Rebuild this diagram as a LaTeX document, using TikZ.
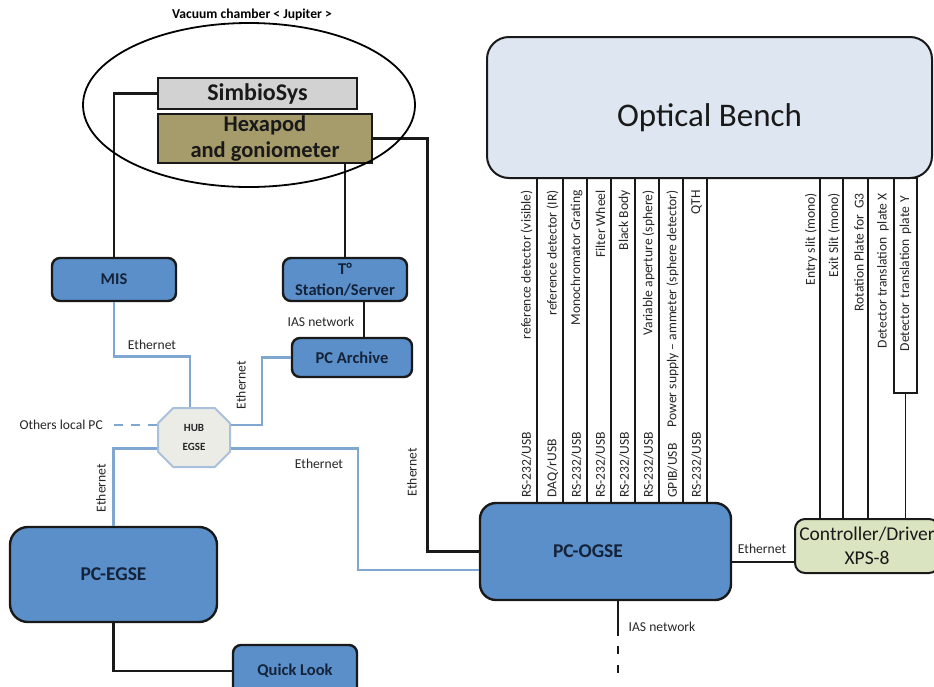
\documentclass[tikz,border=0pt]{standalone}
\usepackage{fontspec}
\setmainfont{Carlito}
\usetikzlibrary{positioning,calc,shapes.geometric,shapes.misc}
\definecolor{boxblue}{HTML}{5B8FC9}
\definecolor{boxtext}{HTML}{14233A}
\definecolor{ethblue}{HTML}{80A6D2}
\definecolor{benchfill}{HTML}{DEE6F1}
\definecolor{hubfill}{HTML}{ECECE6}
\definecolor{hubline}{HTML}{A9C0DD}
\definecolor{hexfill}{HTML}{A59B6B}
\definecolor{simfill}{HTML}{D2D2D2}
\definecolor{ctrlfill}{HTML}{DAE4C0}

\begin{document}
\begin{tikzpicture}[x=1pt,y=-1pt,
  box/.style={draw=black!90,line width=2.4pt,fill=boxblue,rounded corners=8pt,text=boxtext,
    font=\bfseries\fontsize{16.5}{21}\selectfont,align=center,inner sep=0pt},
  link/.style={line width=2.6pt,black!90},
  eth/.style={line width=2.6pt,ethblue},
  lbl/.style={font=\fontsize{13.6}{16}\selectfont,text=black!85,inner sep=0pt},
  cable/.style={line width=1.3pt,black!90}]
\useasboundingbox (0,0) rectangle (934,686);
\clip (0,0) rectangle (934,686);

% vacuum chamber
\node[font=\bfseries\fontsize{13.6}{16}\selectfont,inner sep=0pt] (vac) at (252,15) {Vacuum chamber < Jupiter >};
\node[box,fill=simfill,rounded corners=0pt,minimum width=199pt,minimum height=31pt,text=black!90,
  font=\bfseries\fontsize{24}{26}\selectfont] (simbio) at (257.5,93.5) {SimbioSys};
\node[box,fill=hexfill,rounded corners=0pt,minimum width=214pt,minimum height=49pt,text=black!90,
  font=\bfseries\fontsize{22.5}{26}\selectfont] (hexa) at (265,138.5) {Hexapod\\and goniometer};

% PCs and stations
\node[box,minimum width=124pt,minimum height=43pt] (mis) at (114,279.5) {MIS};
\node[box,minimum width=124pt,minimum height=43pt] (tstat) at (345,279.5) {T°\\Station/Server};
\node[box,minimum width=120pt,minimum height=39pt] (archive) at (352,357.5) {PC Archive};
\node[box,rounded corners=18pt,minimum width=207pt,minimum height=95pt,
  font=\bfseries\fontsize{19.5}{24}\selectfont] (egse) at (113.5,574.5) {PC-EGSE};
\node[box,minimum width=124pt,minimum height=52pt] (quick) at (295,671) {Quick Look};
\node[box,rounded corners=16pt,minimum width=251pt,minimum height=97pt,
  font=\bfseries\fontsize{19.5}{24}\selectfont] (ogse) at (605.5,551.5) {PC-OGSE\hspace*{35pt}};
\node[chamfered rectangle,chamfered rectangle xsep=12pt,draw=hubline,line width=2pt,fill=hubfill,
  minimum width=72pt,minimum height=59pt,inner sep=0pt,align=center,text=black!85,
  font=\bfseries\fontsize{11}{19}\selectfont] (hub) at (194,437.5) {HUB\\EGSE};

% optical bench and motion controller
\node[draw=black!90,line width=2pt,fill=benchfill,rounded corners=22pt,minimum width=445pt,
  minimum height=141pt,inner sep=0pt,font=\fontsize{33}{36}\selectfont,text=black!90,
  text height=40pt,text depth=3pt] (bench) at (709.5,107.5) {Optical Bench};
\node[draw=black!90,line width=2pt,fill=ctrlfill,rounded corners=10pt,minimum width=144pt,
  minimum height=54pt,inner sep=0pt,align=center,text=black!90,
  font=\fontsize{19.5}{24}\selectfont] (ctrl) at (867,546) {Controller/Driver\\XPS-8};

% cables bench -> PC-OGSE
\foreach \x/\lo/\hi [count=\i] in {537/{RS-232/USB}/{reference detector (visible)},
    563/{DAQ/rUSB}/{reference detector (IR)}, 587/{RS-232/USB}/{Monochromator Grating},
    611/{RS-232/USB}/{Filter Wheel}, 635/{RS-232/USB}/{Black Body},
    659/{RS-232/USB}/{Variable aperture (sphere)},
    683/{GPIB/USB}/{Power supply -- ammeter (sphere detector)}, 707/{RS-232/USB}/{QTH}}{
  \coordinate (c\i) at (\x,0);
  \draw[cable] (c\i |- bench.south) -- (c\i |- ogse.north);
  \node[lbl,rotate=90,anchor=west] (lo\i) at ($(c\i |- ogse.north)+(-10.5,-4)$) {\lo};
  \node[lbl,rotate=90,anchor=east] (hi\i) at ($(c\i |- bench.south)+(-10.5,11)$) {\hi};
}

% cables bench -> controller
\foreach \x/\t [count=\i] in {820/{Entry slit (mono)}, 843/{Exit Slit (mono)},
    868/{Rotation Plate for\ \ G3}}{
  \coordinate (d\i) at (\x,0);
  \draw[cable] (d\i |- bench.south) -- (d\i |- ctrl.north);
  \node[lbl,rotate=90,anchor=east] (m\i) at ($(d\i |- bench.south)+(-9,14)$) {\t};
}
\node[lbl,rotate=90,anchor=east] (m4) at (883,193) {Detector translation\ \ plate X};
\node[lbl,draw=black!90,line width=1.3pt,rotate=90,minimum width=215pt,minimum height=23pt,
  text width=180pt,align=right] (platey) at (905.5,285.5) {Detector translation plate Y};
\draw[cable] (platey.west) -- (platey.west |- ctrl.north);

% black links
\draw[link] (simbio.west) -| (mis.north);
\draw[link] (tstat.north) -- (tstat.north |- hexa.south);
\draw[link] (hexa.east) -- ++(54,0) |- (ogse.west);
\coordinate (tap) at ($(archive.north)+(12,0)$);
\draw[link] (tap) -- (tap |- tstat.south);
\draw[link] (egse.south) |- (quick.west);
\coordinate (oe) at ($(ogse.east)+(0,10.5)$);
\draw[link] (oe) -- (oe -| ctrl.west);
\coordinate (ias) at ($(ogse.south)+(12.5,0)$);
\draw[link] (ias) -- ++(0,35) coordinate (iasgap);
\draw[link,dash pattern=on 8pt off 11pt] ($(iasgap)+(0,10)$) -- ++(0,32) coordinate (iasend);

% ethernet
\node[lbl,anchor=east] (others) at (103,425) {Others local PC};
\draw[eth] (mis.south) -- ++(0,54) -| ($(hub.north)+(-4,0)$);
\draw[eth] ($(hub.east)+(0,-12.5)$) -- ++(31,0) |- (archive.west);
\draw[eth] ($(hub.west)+(0,11)$) -| (egse.north);
\draw[eth] ($(hub.east)+(0,11)$) -- ++(127,0) |- ($(ogse.west)+(0,18.5)$);
\draw[eth,dash pattern=on 9pt off 8pt] ($(hub.west)+(0,-12.5)$) -- ($(others.east)+(7,0)$);

% link labels
\node[lbl] (e1) at (152,345) {Ethernet};
\node[lbl,rotate=90] (e2) at (241,385) {Ethernet};
\node[lbl,rotate=90] (e3) at (101,488) {Ethernet};
\node[lbl] (e4) at (319,464) {Ethernet};
\node[lbl,rotate=90] (e5) at (412,472) {Ethernet};
\node[lbl] (e6) at (762,549) {Ethernet};
\node[lbl] (n1) at (321,322) {IAS network};
\node[lbl] (n2) at (662,627) {IAS network};

% chamber outline over the stages
\node[draw,ellipse,line width=1.8pt,minimum width=332pt,minimum height=164pt] (chamber) at (249,105) {};
\end{tikzpicture}
\end{document}
